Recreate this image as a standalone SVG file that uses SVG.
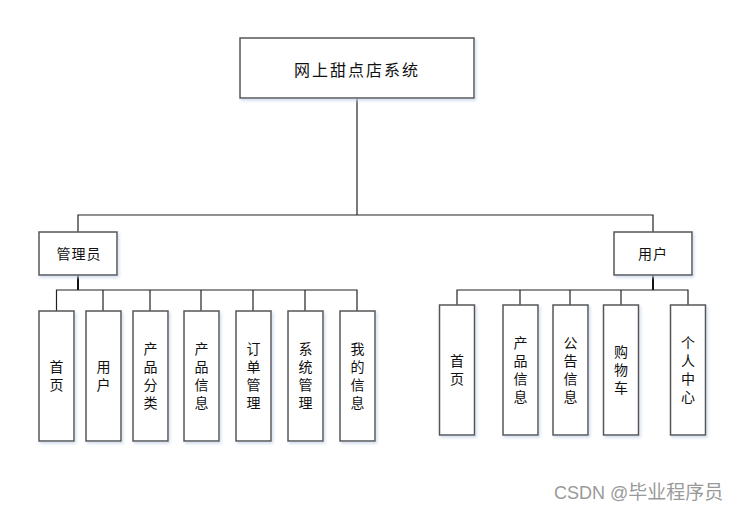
<svg xmlns="http://www.w3.org/2000/svg" width="741" height="514" viewBox="0 0 741 514">
<defs>
<style>
.box{fill:#fff;stroke:#555;stroke-width:1.5}
.t{font-family:"Noto Sans CJK SC","Liberation Sans",sans-serif;font-size:14px;fill:#111;text-anchor:middle;dominant-baseline:central}
.v{font-family:"Noto Sans CJK SC","Liberation Sans",sans-serif;font-size:14px;fill:#111;text-anchor:middle;writing-mode:vertical-rl;letter-spacing:4px}
.line{fill:none;stroke:#222;stroke-width:1.2}
.bold{fill:none;stroke:#111;stroke-width:2}
</style>
<filter id="sh" x="-20%" y="-20%" width="140%" height="140%">
<feDropShadow dx="1.5" dy="2" stdDeviation="1.5" flood-color="#c8d4e8" flood-opacity="0.8"/>
</filter>
</defs>
<rect width="741" height="514" fill="#fff"/>
<g id="connectors">
<path class="line" d="M357 98 V215 M78 232 V215 H653 V232"/>
<path class="bold" d="M78 275 V290"/>
<path class="line" d="M56.5 311 V290 H357 V311 M103 290 V311 M150 290 V311 M201 290 V311 M253 290 V311 M305 290 V311"/>
<path class="bold" d="M653 275 V290"/>
<path class="line" d="M457 305 V290 H688 V305 M520 290 V305 M570 290 V305 M621 290 V305"/>
</g>
<g id="root"><rect class="box" filter="url(#sh)" x="240" y="38" width="234" height="60"/><text class="t" x="357" y="69" style="font-size:16px;letter-spacing:2px">网上甜点店系统</text></g>
<g id="admin"><rect class="box" filter="url(#sh)" x="39" y="232" width="78" height="43"/><text class="t" x="79" y="253" style="letter-spacing:1px">管理员</text></g>
<g id="user"><rect class="box" filter="url(#sh)" x="614" y="232" width="78" height="43"/><text class="t" x="653" y="253" style="letter-spacing:1px">用户</text></g>
<g id="a1"><rect class="box" filter="url(#sh)" x="39" y="311" width="35" height="130"/><text class="v" x="56.5" y="378">首页</text></g>
<g id="a2"><rect class="box" filter="url(#sh)" x="86" y="311" width="35" height="130"/><text class="v" x="103.5" y="378">用户</text></g>
<g id="a3"><rect class="box" filter="url(#sh)" x="133" y="311" width="35" height="130"/><text class="v" x="150.5" y="378">产品分类</text></g>
<g id="a4"><rect class="box" filter="url(#sh)" x="184" y="311" width="35" height="130"/><text class="v" x="201.5" y="378">产品信息</text></g>
<g id="a5"><rect class="box" filter="url(#sh)" x="236" y="311" width="35" height="130"/><text class="v" x="253.5" y="378">订单管理</text></g>
<g id="a6"><rect class="box" filter="url(#sh)" x="288" y="311" width="35" height="130"/><text class="v" x="305.5" y="378">系统管理</text></g>
<g id="a7"><rect class="box" filter="url(#sh)" x="340" y="311" width="35" height="130"/><text class="v" x="357.5" y="378">我的信息</text></g>
<g id="u1"><rect class="box" filter="url(#sh)" x="439.5" y="305" width="35" height="130"/><text class="v" x="457" y="372">首页</text></g>
<g id="u2"><rect class="box" filter="url(#sh)" x="503" y="305" width="35" height="130"/><text class="v" x="520.5" y="372">产品信息</text></g>
<g id="u3"><rect class="box" filter="url(#sh)" x="553" y="305" width="35" height="130"/><text class="v" x="570.5" y="372">公告信息</text></g>
<g id="u4"><rect class="box" filter="url(#sh)" x="603.5" y="305" width="35" height="130"/><text class="v" x="621" y="372">购物车</text></g>
<g id="u5"><rect class="box" filter="url(#sh)" x="670.5" y="305" width="35" height="130"/><text class="v" x="688" y="372">个人中心</text></g>
<text x="554" y="499" style="font-family:'Liberation Sans','Noto Sans CJK SC',sans-serif;font-size:18px;fill:#9a9a9a">CSDN @<tspan style="font-family:'Noto Sans CJK SC',sans-serif;font-size:19px">毕业程序员</tspan></text>
</svg>
